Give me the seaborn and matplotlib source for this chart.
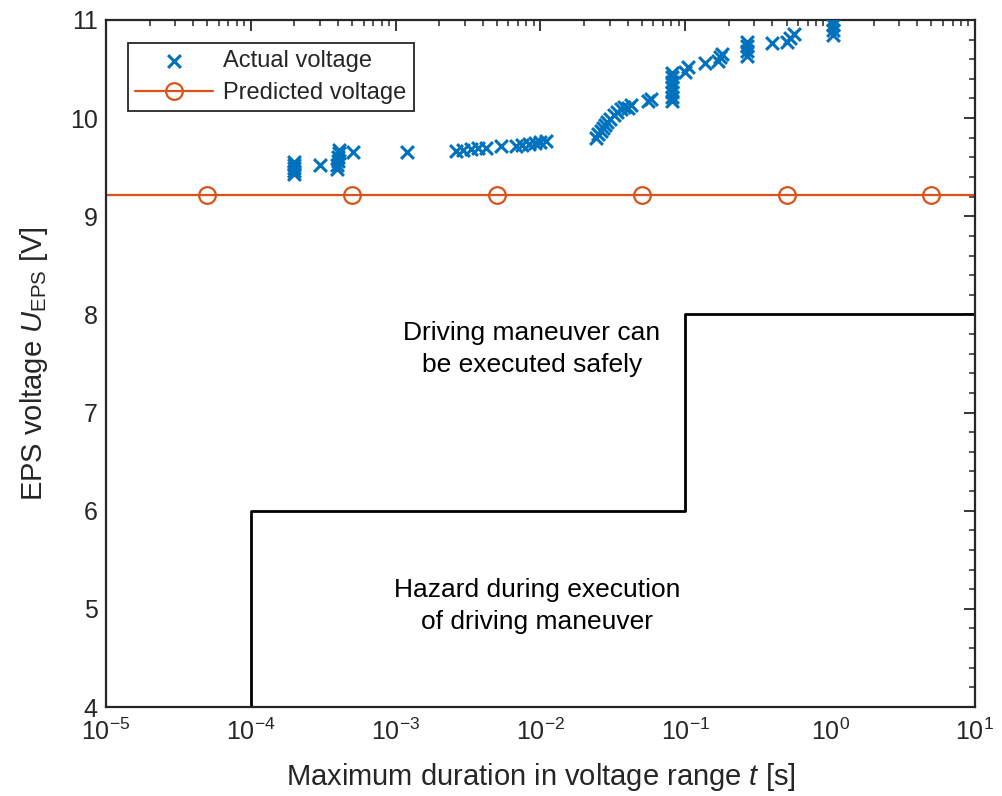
import numpy as np
import pandas as pd
import seaborn as sns
import matplotlib
matplotlib.use("Agg")
import matplotlib.pyplot as plt
from matplotlib.ticker import LogLocator, MultipleLocator

# ---- data ----
actual_t = [2.0e-4, 2.0e-4, 2.0e-4, 2.0e-4, 2.0e-4,
            3.0e-4,
            3.95e-4, 3.95e-4, 4.0e-4, 4.0e-4, 4.05e-4, 4.05e-4,
            5.1e-4, 1.2e-3,
            2.6e-3, 2.9e-3, 3.3e-3, 3.7e-3, 4.2e-3,
            5.3e-3,
            6.8e-3, 7.5e-3, 8.3e-3, 9.2e-3, 1.0e-2, 1.1e-2,
            0.024, 0.025, 0.026, 0.027, 0.028, 0.029, 0.030, 0.032, 0.034, 0.036, 0.038,
            0.040, 0.042,
            0.055, 0.058,
            0.081, 0.081, 0.081, 0.081, 0.081, 0.081, 0.081,
            0.100, 0.105,
            0.137,
            0.168, 0.174, 0.180,
            0.267, 0.267, 0.267, 0.267,
            0.40,
            0.50, 0.53, 0.56,
            1.05, 1.05, 1.05, 1.05]
actual_u = [9.43, 9.46, 9.49, 9.52, 9.55,
            9.52,
            9.48, 9.52, 9.56, 9.60, 9.64, 9.68,
            9.65, 9.65,
            9.67, 9.68, 9.69, 9.70, 9.70,
            9.72,
            9.72, 9.73, 9.74, 9.75, 9.76, 9.77,
            9.80, 9.84, 9.87, 9.90, 9.93, 9.96, 9.99, 10.03, 10.06, 10.09, 10.11,
            10.10, 10.13,
            10.17, 10.19,
            10.17, 10.22, 10.27, 10.32, 10.37, 10.42, 10.46,
            10.47, 10.52,
            10.56,
            10.58, 10.62, 10.65,
            10.63, 10.68, 10.73, 10.78,
            10.77,
            10.78, 10.82, 10.86,
            10.85, 10.90, 10.95, 11.00]

pred_t = [1e-5, 5e-5, 5e-4, 5e-3, 5e-2, 5e-1, 5e0, 1e1]
pred_u = [9.22] * len(pred_t)

step_t = [1e-4, 1e-4, 1e-1, 1e-1, 1e1]
step_u = [4, 6, 6, 8, 8]

# ---- style ----
sns.set_theme(style="white")
plt.rcParams['font.family'] = ['Liberation Sans', 'DejaVu Sans']
plt.rcParams['mathtext.fontset'] = 'custom'
plt.rcParams['mathtext.rm'] = 'Liberation Sans'
plt.rcParams['mathtext.it'] = 'Liberation Sans:italic'
plt.rcParams['mathtext.bf'] = 'Liberation Sans:bold'

blue = '#0072BD'
orange = '#D95319'
dark = '#262626'

fig = plt.figure(figsize=(10.02, 7.96), dpi=100)
ax = fig.add_axes([0.1058, 0.1118, 0.8672, 0.8631])

df_a = pd.DataFrame({'t': actual_t, 'u': actual_u})
sns.scatterplot(data=df_a, x='t', y='u', marker='x', color=blue, s=85,
                linewidth=2.2, ax=ax, label='Actual voltage', zorder=3,
                clip_on=True)

ax.plot(pred_t, pred_u, color=orange, lw=1.6, marker='o', ms=12,
        mfc='none', mec=orange, mew=1.6, markevery=[1, 2, 3, 4, 5, 6],
        label='Predicted voltage', zorder=2)

ax.plot(step_t, step_u, color='black', lw=2.0, zorder=2)

ax.set_xscale('log')
ax.set_xlim(1e-5, 1e1)
ax.set_ylim(4, 11)
ax.xaxis.set_major_locator(LogLocator(base=10, numticks=10))
ax.xaxis.set_minor_locator(LogLocator(base=10, subs=np.arange(2, 10), numticks=20))
ax.yaxis.set_major_locator(MultipleLocator(1))
ax.yaxis.set_minor_locator(MultipleLocator(0.2))

ax.tick_params(which='both', direction='in', top=True, right=True,
               color=dark, labelsize=18, labelcolor=dark)
ax.tick_params(which='major', length=8, width=1.3)
ax.tick_params(which='minor', length=4.5, width=1.1)
ax.tick_params(axis='x', pad=8)
ax.tick_params(axis='y', pad=6)
for sp in ax.spines.values():
    sp.set_color(dark)
    sp.set_linewidth(1.6)

ax.set_xlabel('Maximum duration in voltage range $t$ [s]', fontsize=21,
              color=dark, labelpad=12)
ax.set_ylabel(r'EPS voltage $U_{\mathrm{EPS}}$ [V]', fontsize=21,
              color=dark, labelpad=14)

ax.text(8.7e-3, 7.65, 'Driving maneuver can\nbe executed safely', ha='center',
        va='center', fontsize=19, color='black', linespacing=1.4)
ax.text(9.5e-3, 5.03, 'Hazard during execution\nof driving maneuver', ha='center',
        va='center', fontsize=19, color='black', linespacing=1.4)

leg = ax.legend(loc='upper left', bbox_to_anchor=(0.025, 0.967), borderaxespad=0,
                fontsize=17, frameon=True, fancybox=False, edgecolor=dark,
                framealpha=1, handlelength=3.3, labelspacing=0.45,
                borderpad=0.3, handletextpad=0.45)
leg.get_frame().set_linewidth(1.3)

fig.savefig('out.png', dpi=100)
